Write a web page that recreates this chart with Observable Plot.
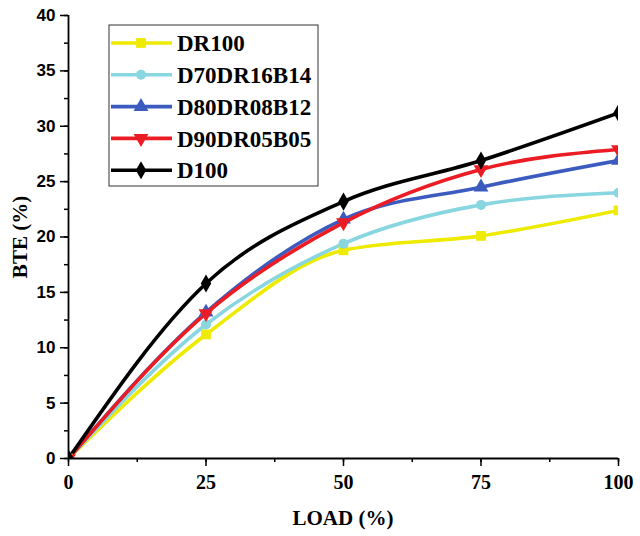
<!DOCTYPE html>
<html>
<head>
<meta charset="utf-8">
<script src="https://cdn.jsdelivr.net/npm/d3@7"></script>
<script src="https://cdn.jsdelivr.net/npm/@observablehq/plot@0.6"></script>
<style>
  html, body { margin: 0; padding: 0; background: #fff; }
  #chart { width: 640px; height: 536px; }
</style>
</head>
<body>
<div id="chart"></div>
<script>
const loads = [0, 25, 50, 75, 100];
const seriesNames = ["DR100", "D70DR16B14", "D80DR08B12", "D90DR05B05", "D100"];
const DR100 = [0, 11.2, 18.8, 20.1, 22.4];
const D70DR16B14 = [0, 12.1, 19.4, 22.9, 24.0];
const D80DR08B12 = [0, 13.2, 21.6, 24.5, 26.9];
const D90DR05B05 = [0, 13.1, 21.3, 26.1, 27.9];
const D100 = [0, 15.8, 23.2, 26.9, 31.2];
const seriesValues = [DR100, D70DR16B14, D80DR08B12, D90DR05B05, D100];
const colors = ["#eeea00", "#88d6e0", "#3b5bbf", "#ec1c24", "#000000"];
const yTicks = [0, 5, 10, 15, 20, 25, 30, 35, 40];
const xTicks = [0, 25, 50, 75, 100];

// inverted triangle symbol
const triangleDown = {
  draw(context, size) {
    const y = -Math.sqrt(size / (Math.sqrt(3) * 3));
    context.moveTo(0, -y * 2);
    context.lineTo(-Math.sqrt(3) * y, y);
    context.lineTo(Math.sqrt(3) * y, y);
    context.closePath();
  }
};
const symbols = [d3.symbolSquare, d3.symbolCircle, d3.symbolTriangle, triangleDown, d3.symbolDiamond];

const data = [];
seriesNames.forEach((name, i) => {
  loads.forEach((l, j) => data.push({series: name, load: l, bte: seriesValues[i][j], idx: i}));
});

const serif = "'Liberation Serif', 'Times New Roman', serif";
const sans = "'Liberation Sans', Arial, sans-serif";

const marks = [];
seriesNames.forEach((name, i) => {
  const d = data.filter(r => r.series === name);
  marks.push(Plot.line(d, {x: "load", y: "bte", stroke: colors[i], strokeWidth: 3.6, curve: "monotone-x", clip: true}));
});
seriesNames.forEach((name, i) => {
  const d = data.filter(r => r.series === name);
  marks.push(Plot.dot(d, {x: "load", y: "bte", fill: colors[i], stroke: "none", symbol: () => symbols[i], r: i === 1 ? 5 : 5.5, clip: true}));
});

const plot = Plot.plot({
  width: 640,
  height: 536,
  marginLeft: 68,
  marginRight: 22,
  marginTop: 15,
  marginBottom: 78,
  style: {background: "#fff", overflow: "visible"},
  x: {domain: [0, 100]},
  y: {domain: [0, 40]},
  symbol: {type: "identity"},
  marks: [
    ...marks,
    Plot.axisY({ticks: d3.range(0, 40.1, 2.5), tickSize: 4, text: null, strokeWidth: 1.5, label: null}),
    Plot.axisY({ticks: yTicks, tickSize: 8, tickPadding: 5, strokeWidth: 1.5, label: null,
      fontFamily: sans, fontWeight: "bold", fontSize: 17, fill: "#000"}),
    Plot.axisX({ticks: d3.range(0, 100.1, 12.5), tickSize: 4, text: null, strokeWidth: 1.5, label: null}),
    Plot.axisX({ticks: xTicks, tickSize: 8, tickPadding: 8, strokeWidth: 1.5, label: null,
      fontFamily: serif, fontWeight: "bold", fontSize: 20, fill: "#000"}),
    Plot.ruleX([0], {stroke: "#000", strokeWidth: 1.8}),
    Plot.ruleY([0], {stroke: "#000", strokeWidth: 1.8})
  ]
});

document.getElementById("chart").appendChild(plot);

// axis titles and legend (layout only)
const svg = d3.select(plot);
svg.append("text")
  .attr("x", 343).attr("y", 525)
  .attr("text-anchor", "middle")
  .attr("font-family", serif).attr("font-weight", "bold").attr("font-size", 21)
  .attr("fill", "#000")
  .text("LOAD (%)");
svg.append("text")
  .attr("transform", "translate(27,237) rotate(-90)")
  .attr("text-anchor", "middle")
  .attr("font-family", serif).attr("font-weight", "bold").attr("font-size", 21)
  .attr("fill", "#000")
  .text("BTE (%)");

const lg = svg.append("g").attr("text-anchor", "start");
lg.append("rect")
  .attr("x", 109).attr("y", 25).attr("width", 209).attr("height", 161)
  .attr("fill", "#fff").attr("stroke", "#333").attr("stroke-width", 1);
seriesNames.forEach((name, i) => {
  const cy = 43 + i * 31.8;
  lg.append("line").attr("x1", 111).attr("x2", 172).attr("y1", cy).attr("y2", cy)
    .attr("stroke", colors[i]).attr("stroke-width", 3.6);
  lg.append("path")
    .attr("transform", `translate(141,${cy})`)
    .attr("d", d3.symbol(symbols[i], i === 1 ? 78 : 95)())
    .attr("fill", colors[i]);
  lg.append("text")
    .attr("x", 177).attr("y", cy)
    .attr("dy", "0.36em")
    .attr("text-anchor", "start")
    .attr("font-family", serif).attr("font-weight", "bold").attr("font-size", 23)
    .attr("fill", "#000")
    .text(name);
});
</script>
</body>
</html>
